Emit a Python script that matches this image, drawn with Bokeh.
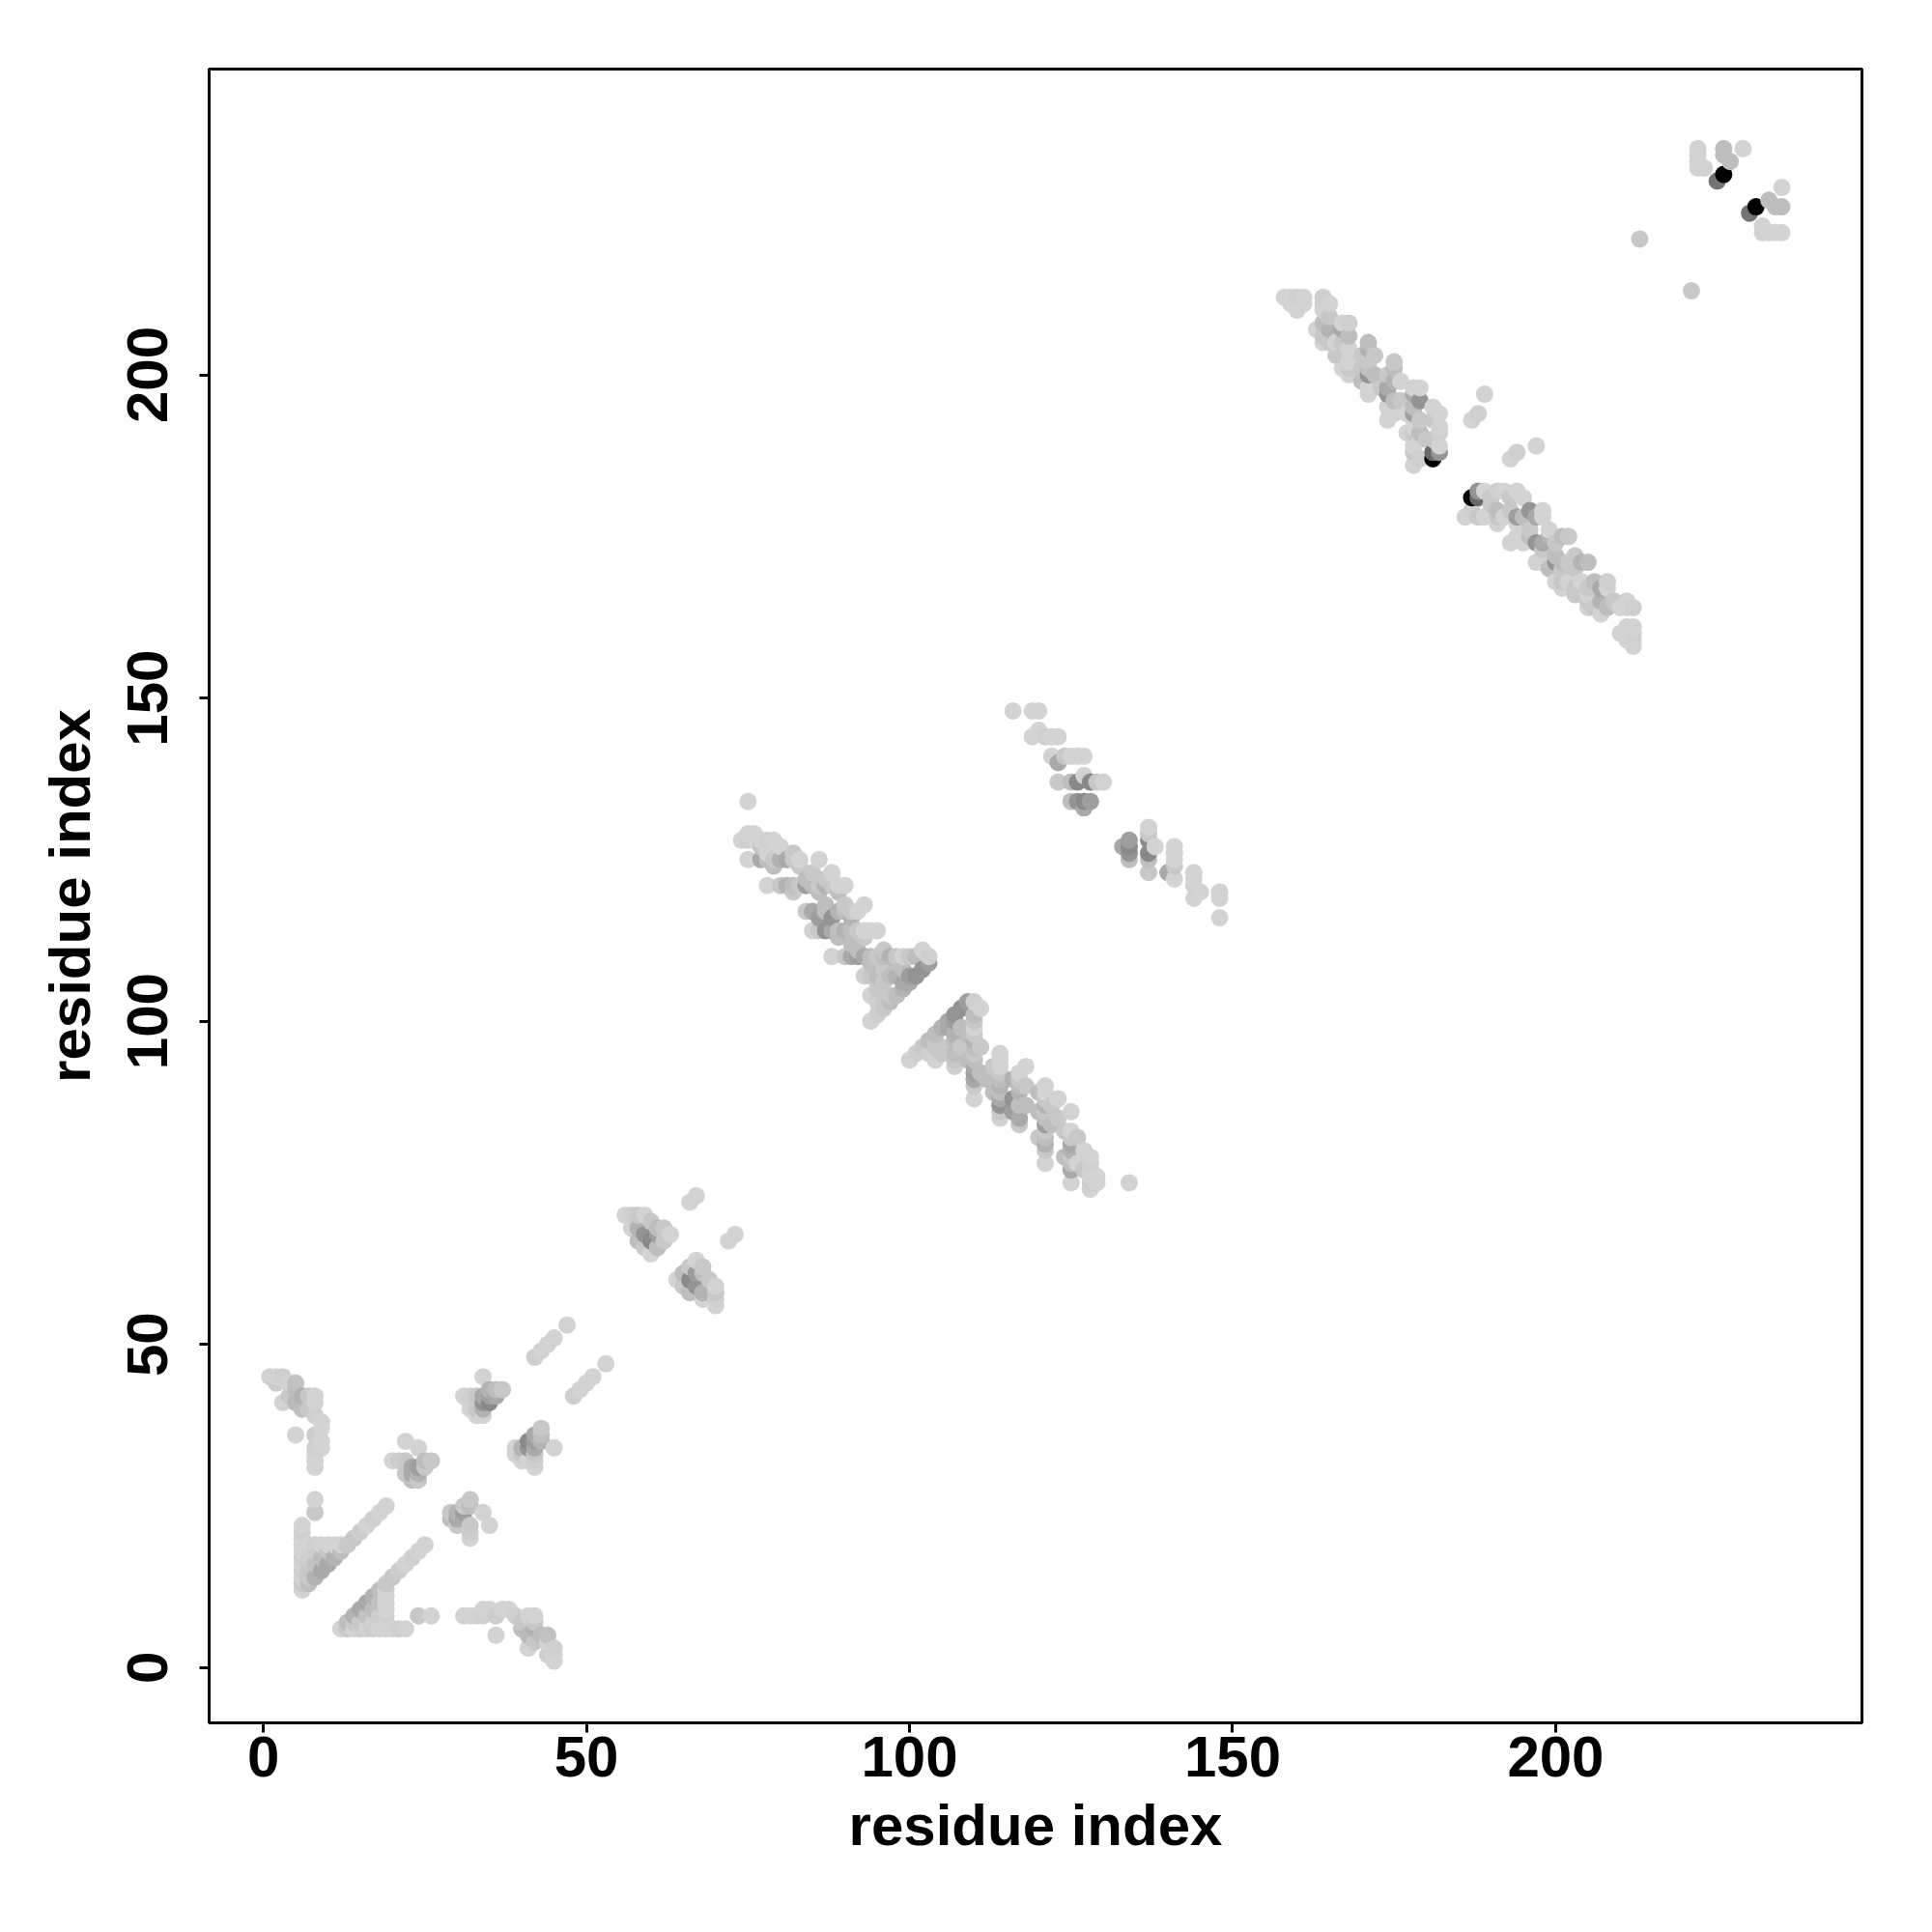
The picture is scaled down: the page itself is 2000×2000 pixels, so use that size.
from bokeh.plotting import figure
from bokeh.models import Range1d, FixedTicker, ColumnDataSource
from bokeh.embed import file_html
from bokeh.resources import INLINE

# Contacts (i, j, darkness 0..1) listed for the upper triangle (j > i); the map is symmetric.
cluster_a = [(1,45,0),(2,45,0),(3,45,0.02),(4,44,0),(5,44,0.08),(5,43,0.1),(6,42,0.15),(3,41,0),
             (5,41,0.12),(6,40,0.1),(7,42,0.05),(8,42,0),(8,41,0),(7,40,0.05),(8,39,0.02),(9,38,0),
             (9,37,0),(5,36,0),(8,36,0.03),(9,35,0),(8,34,0.02),(9,34,0),(8,33,0),(8,32,0),(8,31,0),
             (4,42,0.05),(2,44,0.03)]
cluster_b = [(6,12,0),(6,13,0.05),(6,14,0),(6,15,0.02),(6,16,0),(6,17,0.03),(6,18,0),(6,19,0),(6,20,0),
             (6,21,0.02),(6,22,0),(8,24,0.05),(8,26,0),
             (7,13,0.1),(8,14,0.15),(9,15,0.2),(10,16,0.2),(11,17,0.15),(12,18,0.1),(13,19,0.05),
             (14,20,0.05),(15,21,0.03),(16,22,0),(17,23,0.02),(18,24,0),(19,25,0),
             (7,15,0.05),(7,17,0.02),(8,16,0.08),(8,18,0.03),(9,17,0.1),(10,18,0.08),(7,19,0),(8,19,0.02),
             (9,19,0),(10,19,0),(11,19,0),(12,19,0),(7,14,0.05)]
cluster_c = [(22,35,0),(24,34,0),(20,32,0),(21,32,0.03),(22,32,0.05),(23,31,0.2),(24,31,0.25),(25,32,0.1),
             (26,32,0.05),(22,30,0.05),(23,30,0.2),(24,30,0.15),(23,29,0.1),(24,29,0.05),(25,31,0.05)]
cluster_e = [(34,45,0),(31,42,0),(32,42,0.02),(33,42,0.05),(32,41,0),(32,40,0),(33,40,0.05),(34,42,0.2),
             (35,43,0.15),(36,43,0.1),(37,43,0.05),(34,41,0.3),(35,41,0.35),(35,42,0.25),(36,42,0.2),
             (34,40,0.15),(33,39,0),(34,39,0)]
cluster_f = [(42,48,0.02),(43,49,0),(44,50,0),(45,51,0),(47,53,0)]
cluster_g = [(56,70,0),(57,70,0.02),(58,70,0.05),(59,70,0),(60,69,0.05),(61,68,0.1),(62,68,0.05),(63,67,0),
             (57,68,0),(58,68,0.15),(59,67,0.3),(60,66,0.35),(61,67,0.25),(58,66,0.1),(59,65,0.05),
             (60,64,0),(61,65,0.1),(62,66,0.05)]
cluster_h = [(66,72,0),(67,73,0)]
cluster_i = [(75,134,0),
             (74,128,0),(75,128,0.03),(76,128,0),(77,128,0),(78,128,0.02),(79,128,0),(75,129,0),(76,129,0),
             (77,127,0.05),(80,127,0),
             (75,125,0),(77,125,0.2),(78,125,0.1),(79,125,0.05),(80,125,0.15),(81,125,0.2),(82,125,0.05),
             (83,125,0),(86,125,0),(78,126,0),(82,126,0.05),(79,124,0.1),(83,124,0.05),
             (78,121,0),(80,121,0.05),(81,121,0.15),(82,121,0.1),(83,121,0.05),(84,121,0.25),(85,121,0.1),
             (86,121,0.05),(87,121,0.15),(88,121,0.05),(89,121,0),(90,121,0),(85,123,0.05),(88,123,0),
             (82,120,0.05),(86,120,0.1),(84,122,0.1),(87,122,0.05),(89,120,0.1),
             (84,117,0.05),(85,117,0.2),(86,116,0.25),(87,117,0.1),(88,116,0.3),(89,117,0.15),(90,117,0.1),
             (91,117,0.05),(92,117,0),(93,118,0),(90,118,0.05),(87,118,0.1),(91,116,0.15),
             (85,114,0),(86,114,0.05),(87,114,0.3),(88,114,0.2),(89,114,0.1),(90,114,0.15),(91,114,0.1),
             (92,114,0.05),(93,114,0),(94,114,0),(95,114,0),(89,113,0.1),(93,113,0.05),(91,112,0.1),
             (88,110,0),(90,110,0.05),(91,110,0.2),(92,110,0.25),(93,110,0.2),(94,110,0.1),(95,110,0.05),
             (96,110,0.1),(97,110,0.15),(98,110,0.05),(99,110,0),(100,110,0.05),(101,110,0.1),(102,111,0),
             (103,110,0.02),(92,111,0.1),(96,111,0.05),(94,109,0.1),(98,109,0.1),
             (93,107,0.02),(94,107,0.05),(95,107,0.1),(96,106,0.05),(97,107,0.1),(98,107,0.15),(99,106,0.2),
             (100,107,0.25),(101,107,0.3),(96,108,0.05),(99,108,0.1),
             (94,104,0),(95,103,0.02),(96,104,0.05),(97,104,0.05),(95,105,0.05),
             (94,100,0),(95,101,0.02),(96,102,0.05),(97,103,0.1),(98,104,0.1),(99,105,0.15),(100,106,0.2),
             (102,108,0.3),(103,109,0.25)]
cluster_j = [(116,148,0),(119,148,0),(120,148,0),
             (119,144,0),(120,145,0),(121,144,0.02),(122,144,0),(123,144,0),
             (122,141,0),(123,140,0.2),(124,141,0.05),(125,141,0),(126,141,0),(127,141,0),
             (123,137,0.05),(125,137,0.1),(126,137,0.35),(127,138,0),(128,137,0.35),(129,137,0.05),(130,137,0),
             (125,134,0.1),(126,134,0.3),(127,134,0.35),(128,134,0.25),(127,133,0.2)]
cluster_k = [(158,212,0),(159,212,0),(160,212,0.02),(161,212,0),(160,210,0),(159,211,0),(161,211,0),
             (164,212,0.02),(164,211,0),(164,210,0),(165,209,0.05),(164,208,0.1),(165,207,0.15),(164,206,0.05),
             (164,205,0),(163,207,0),(165,211,0),(165,205,0.05),
             (167,208,0),(168,208,0.02),(167,207,0.2),(168,206,0.1),(167,205,0.05),(168,204,0),(167,203,0.05),
             (168,202,0),(167,201,0),(168,200,0),(166,205,0),(166,203,0.05),(168,201,0.05),
             (171,205,0.1),(171,204,0.15),(170,203,0.05),(171,202,0.05),(171,201,0.1),(171,200,0.3),
             (170,199,0.1),(171,198,0),(171,197,0),(172,203,0.05),(172,200,0.1),(170,201,0.05),
             (175,202,0.05),(175,201,0.1),(174,200,0.05),(175,199,0.15),(174,198,0.2),(174,197,0.3),
             (175,196,0.1),(174,195,0),(175,194,0),(174,193,0),(176,199,0),(173,198,0.05),(176,196,0.05),
             (178,198,0),(179,198,0),(178,197,0.2),(179,196,0.3),(178,195,0.1),(178,194,0.25),(179,193,0.05),
             (178,192,0),(178,191,0.05),(179,190,0),(178,189,0),(178,188,0.05),(179,187,0.02),(178,186,0),
             (177,194,0),(177,191,0),(179,191,0.1),
             (181,195,0),(182,194,0),(181,193,0.05),(182,192,0),(182,191,0.02),(181,190,0.05),(182,189,0),
             (182,188,0.3),(181,188,0.5),(181,187,1.0),(180,190,0.05),
             (189,197,0),(188,194,0.02),(187,193,0)]
cluster_l = [(222,235,0),(226,235,0.1),(229,235,0),(222,234,0),(222,233,0),(223,232,0),(222,232,0),
             (227,233,0.1),(226,234,0.1),(225,230,0.45),(226,231,1.0),(213,221,0.05)]

clusters = [cluster_a, cluster_b, cluster_c, cluster_e, cluster_f, cluster_g, cluster_h,
            cluster_i, cluster_j, cluster_k, cluster_l]

tick_values = [0, 50, 100, 150, 200]

pts = []
for cl in clusters:
    for (i, j, w) in cl:
        pts.append((i, j, w))
        pts.append((j, i, w))
pts.sort(key=lambda t: (t[0], t[1]))


def shade(w):
    g = int(round(211 * (1 - w)))
    return "#%02x%02x%02x" % (g, g, g)


src = ColumnDataSource(dict(x=[t[0] for t in pts], y=[t[1] for t in pts],
                            c=[shade(t[2]) for t in pts]))

p = figure(width=1980, height=1980, x_range=Range1d(-8.39, 247.4), y_range=Range1d(-8.55, 247.3),
           output_backend="svg", toolbar_location=None,
           min_border_left=216, min_border_right=53, min_border_top=71, min_border_bottom=197)
p.grid.visible = False
p.outline_line_color = "black"
p.outline_line_width = 3
p.background_fill_color = "white"
p.border_fill_color = "white"

p.scatter("x", "y", source=src, size=18, fill_color="c", line_color=None, marker="circle")

FONT = "Liberation Sans"
for ax in (p.xaxis[0], p.yaxis[0]):
    ax.ticker = FixedTicker(ticks=tick_values)
    ax.axis_label = "residue index"
    ax.axis_label_text_font = FONT
    ax.axis_label_text_font_style = "bold"
    ax.axis_label_text_font_size = "60px"
    ax.axis_label_text_color = "black"
    ax.major_label_text_font = FONT
    ax.major_label_text_font_style = "bold"
    ax.major_label_text_font_size = "60px"
    ax.major_label_text_color = "black"
    ax.axis_line_width = 3
    ax.axis_line_color = "black"
    ax.major_tick_line_width = 3
    ax.major_tick_line_color = "black"
    ax.major_tick_out = 10
    ax.major_tick_in = 0
    ax.minor_tick_line_color = None

p.xaxis[0].major_label_standoff = 4
p.xaxis[0].axis_label_standoff = 14
p.yaxis[0].major_label_standoff = 33
p.yaxis[0].axis_label_standoff = 24
p.yaxis[0].major_label_orientation = "vertical"

open("out.html", "w").write(file_html(p, INLINE))
